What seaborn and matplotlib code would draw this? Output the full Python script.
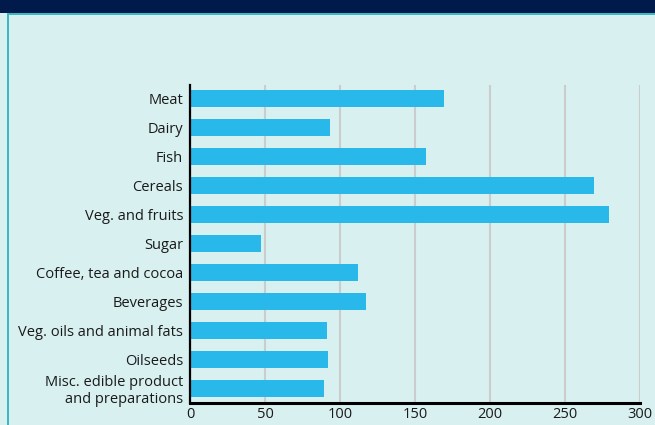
import pandas as pd
import matplotlib.pyplot as plt
import seaborn as sns
from matplotlib.patches import Rectangle

categories = ['Meat', 'Dairy', 'Fish', 'Cereals', 'Veg. and fruits', 'Sugar',
              'Coffee, tea and cocoa', 'Beverages', 'Veg. oils and animal fats',
              'Oilseeds', 'Misc. edible product\nand preparations']
values = [169, 93, 157, 269, 279, 47, 112, 117, 91, 92, 89]

df = pd.DataFrame({'Category': categories, 'Value': values})

bg = '#D8F0F0'
sns.set_theme(style='white')
plt.rcParams['font.family'] = ['Open Sans', 'DejaVu Sans']

fig = plt.figure(figsize=(6.55, 4.25), dpi=100)
fig.patch.set_facecolor(bg)

# header band and teal frame
fig.add_artist(Rectangle((0, 1 - 13 / 425), 1, 13 / 425, transform=fig.transFigure,
                         facecolor='#001A4B', edgecolor='none', zorder=5))
fig.add_artist(Rectangle((7 / 655, 1 - 15 / 425), 1, 2 / 425, transform=fig.transFigure,
                         facecolor='#3BB8C0', edgecolor='none', zorder=5))
fig.add_artist(Rectangle((7 / 655, 0), 2 / 655, 1 - 13 / 425, transform=fig.transFigure,
                         facecolor='#3BB8C0', edgecolor='none', zorder=5))

ax = fig.add_axes([190 / 655, 1 - 403.3 / 425, 450 / 655, 318.3 / 425])
ax.set_facecolor(bg)

sns.barplot(data=df, x='Value', y='Category', orient='h', color='#29B8EA',
            saturation=1, width=0.58, linewidth=0, ax=ax, zorder=3)

ax.set_xlim(0, 300)
ax.set_ylim(10.52, -0.46)
ax.set_xticks(range(0, 301, 50))
ax.xaxis.grid(True, color='#CCCCCC', linewidth=1.5, zorder=0)
ax.yaxis.grid(False)
ax.set_axisbelow(True)
ax.set_xlabel('')
ax.set_ylabel('')

for s in ['top', 'right']:
    ax.spines[s].set_visible(False)
ax.spines['left'].set_color('black')
ax.spines['left'].set_linewidth(1.6)
ax.spines['left'].set_zorder(4)
ax.spines['bottom'].set_color('black')
ax.spines['bottom'].set_linewidth(2.2)
ax.spines['bottom'].set_zorder(4)

ax.tick_params(axis='both', length=0, labelsize=10.5, labelcolor='#1a1a1a')
ax.tick_params(axis='y', pad=5)
ax.tick_params(axis='x', pad=3)
for t in ax.get_yticklabels():
    t.set_linespacing(1.2)

plt.savefig('out.png', dpi=100, facecolor=bg)
